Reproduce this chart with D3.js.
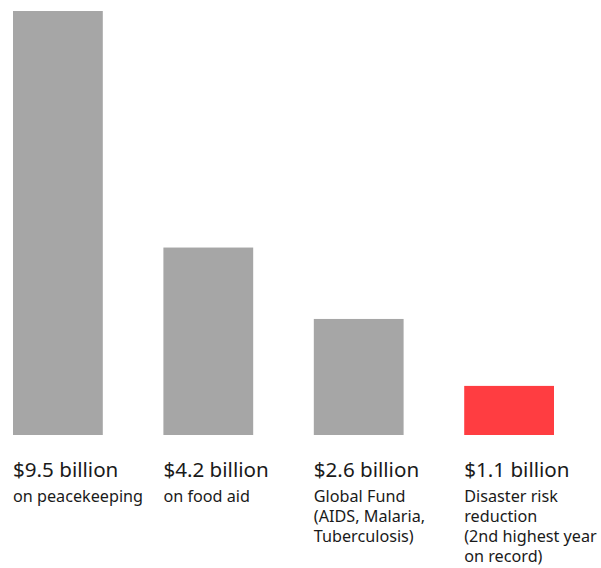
<!DOCTYPE html>
<html>
<head>
<meta charset="utf-8">
<script src="https://cdnjs.cloudflare.com/ajax/libs/d3/7.8.5/d3.min.js"></script>
<style>
  body { margin: 0; background: #fff; }
  svg { display: block; }
  text { font-family: "Noto Sans", sans-serif; fill: #1a1a1a; }
</style>
</head>
<body>
<script>
var categories = ['peacekeeping', 'food', 'globalfund', 'disaster']
var values = [9.5, 4.2, 2.6, 1.1]
var amountLabels = ['$9.5 billion', '$4.2 billion', '$2.6 billion', '$1.1 billion']
var descLines = [
  ['on peacekeeping'],
  ['on food aid'],
  ['Global Fund', '(AIDS, Malaria,', 'Tuberculosis)'],
  ['Disaster risk', 'reduction', '(2nd highest year', 'on record)']
]
var highlight = 'disaster'

var w = 601, h = 568
var svg = d3.select('body').append('svg').attr('width', w).attr('height', h)

var x = d3.scaleBand().domain(categories).range([13, 554]).paddingInner(0.403).paddingOuter(0)
var y = d3.scaleLinear().domain([0, 9.5]).range([435, 11])

svg.selectAll('rect.bar')
  .data(categories)
  .enter().append('rect')
  .attr('class', 'bar')
  .attr('x', function(d) { return x(d) })
  .attr('width', x.bandwidth())
  .attr('y', function(d, i) { return y(values[i]) })
  .attr('height', function(d, i) { return y(0) - y(values[i]) })
  .attr('fill', function(d) { return d == highlight ? '#ff3d41' : '#a6a6a6' })

var lab = svg.selectAll('g.lab')
  .data(categories)
  .enter().append('g')
  .attr('class', 'lab')
  .attr('transform', function(d) { return 'translate(' + x(d) + ',0)' })

lab.append('text')
  .attr('y', 477)
  .style('font-size', '20.6px')
  .text(function(d, i) { return amountLabels[i] })

lab.each(function(d, i) {
  var t = d3.select(this).append('text').style('font-size', '16.2px')
  descLines[i].forEach(function(line, j) {
    t.append('tspan').attr('x', 0).attr('y', 502 + j * 20).text(line)
  })
})
</script>
</body>
</html>
